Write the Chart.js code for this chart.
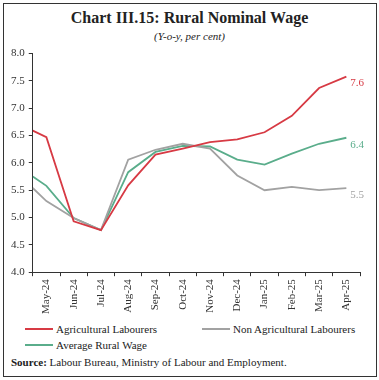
<!DOCTYPE html>
<html>
<head>
<meta charset="utf-8">
<title>Rural Nominal Wage</title>
<script src="https://cdn.jsdelivr.net/npm/chart.js@4.4.1/dist/chart.umd.min.js"></script>
<style>
    body { margin: 0; background: #fff; }
    #frame { position: relative; width: 379px; height: 380px; font-family: 'Liberation Serif', serif; color: #222; }
    #box { position: absolute; left: 3px; top: 3px; width: 374px; height: 374px; border: 1px solid #333; box-sizing: border-box; }
    #title { position: absolute; top: 9px; left: 0; width: 379px; text-align: center; font-weight: bold; font-size: 16px; }
    #subtitle { position: absolute; top: 30px; left: 0; width: 379px; text-align: center; font-style: italic; font-size: 11px; }
    #chartWrap { position: absolute; left: 0; top: 43px; width: 379px; height: 278px; }
    .legendItem { position: absolute; font-size: 11px; line-height: 12px; white-space: nowrap; }
    .legendItem span.swatch { display: inline-block; width: 28px; height: 2px; vertical-align: middle; margin-right: 3px; position: relative; top: -1px; }
    #source { position: absolute; left: 11px; top: 356px; font-size: 11px; }
</style>
</head>
<body>
<div id="frame">
    <div id="box"></div>
    <div id="title">Chart III.15: Rural Nominal Wage</div>
    <div id="subtitle">(Y-o-y, per cent)</div>
    <div id="chartWrap"><canvas id="wageChart" width="379" height="278"></canvas></div>
    <div id="legend"></div>
    <div id="source"><b>Source:</b> Labour Bureau, Ministry of Labour and Employment.</div>
</div>
<script>
// Meses del eje X
const months = ['May-24', 'Jun-24', 'Jul-24', 'Aug-24', 'Sep-24', 'Oct-24',
    'Nov-24', 'Dec-24', 'Jan-25', 'Feb-25', 'Mar-25', 'Apr-25'];

// Valor con el que cada línea entra por el borde izquierdo del gráfico
const agriStart = 6.59;
const nonAgriStart = 5.54;
const avgStart = 5.75;

// Series mensuales (y-o-y, %)
const agri = [6.47, 4.93, 4.77, 5.59, 6.15, 6.26, 6.38, 6.43, 6.56, 6.86, 7.37, 7.58];
const nonAgri = [5.30, 4.99, 4.77, 6.06, 6.24, 6.35, 6.26, 5.77, 5.50, 5.56, 5.50, 5.54];
const avgWage = [5.58, 4.99, 4.77, 5.83, 6.20, 6.31, 6.30, 6.06, 5.97, 6.17, 6.35, 6.46];

// Etiquetas al final de cada línea
const endLabels = ['7.6', '5.5', '6.4'];

const yTicks = { min: 4.0, max: 8.0, step: 0.5 };

(function () {
    const xMin = -0.5;
    const xMax = months.length - 0.5;

    function toPoints(start, values) {
        const pts = [{ x: xMin, y: start }];
        values.forEach((v, i) => pts.push({ x: i, y: v }));
        return pts;
    }

    const series = [
        { label: 'Agricultural Labourers', color: '#d73a44', start: agriStart, values: agri },
        { label: 'Non Agricultural Labourers', color: '#a2a2a2', start: nonAgriStart, values: nonAgri },
        { label: 'Average Rural Wage', color: '#5aad8b', start: avgStart, values: avgWage }
    ];

    // Etiqueta del último valor a la derecha de cada línea
    const endLabelPlugin = {
        id: 'endLabels',
        afterDatasetsDraw(chart) {
            const ctx = chart.ctx;
            ctx.save();
            ctx.font = '11px "Liberation Serif", serif';
            ctx.textBaseline = 'middle';
            ctx.textAlign = 'left';
            chart.data.datasets.forEach((ds, i) => {
                const meta = chart.getDatasetMeta(i);
                const last = meta.data[meta.data.length - 1];
                ctx.fillStyle = ds.borderColor;
                ctx.fillText(endLabels[i], last.x + 4, last.y + 7);
            });
            ctx.restore();
        }
    };

    const axisColor = '#333';
    const tickFont = { family: 'Liberation Serif', size: 11 };

    const chart = new Chart(document.getElementById('wageChart'), {
        type: 'line',
        data: {
            datasets: series.map(s => ({
                label: s.label,
                data: toPoints(s.start, s.values),
                borderColor: s.color,
                backgroundColor: s.color,
                borderWidth: 1.8,
                pointRadius: 0,
                tension: 0
            }))
        },
        options: {
            responsive: false,
            animation: false,
            layout: { padding: { left: 7, right: 19, top: 7, bottom: 4 } },
            plugins: {
                legend: { display: false },
                tooltip: { enabled: false }
            },
            scales: {
                x: {
                    type: 'linear',
                    min: xMin,
                    max: xMax,
                    afterBuildTicks: axis => {
                        axis.ticks = months.map((m, i) => ({ value: i }));
                    },
                    ticks: {
                        callback: v => months[v],
                        minRotation: 90,
                        maxRotation: 90,
                        autoSkip: false,
                        padding: 3,
                        color: '#333',
                        font: tickFont
                    },
                    grid: {
                        offset: true,
                        drawOnChartArea: false,
                        tickLength: 4,
                        color: axisColor
                    },
                    border: { color: axisColor, width: 1 }
                },
                y: {
                    min: yTicks.min,
                    max: yTicks.max,
                    ticks: {
                        stepSize: yTicks.step,
                        callback: v => Number(v).toFixed(1),
                        padding: 4,
                        color: '#333',
                        font: tickFont
                    },
                    grid: {
                        drawOnChartArea: false,
                        tickLength: 4,
                        color: axisColor
                    },
                    border: { color: axisColor, width: 1 }
                }
            }
        },
        plugins: [endLabelPlugin]
    });

    // Leyenda en HTML con dos columnas
    const legendPos = [
        { left: 25, top: 323 },
        { left: 202, top: 323 },
        { left: 25, top: 339 }
    ];
    const legend = document.getElementById('legend');
    chart.data.datasets.forEach((ds, i) => {
        const item = document.createElement('div');
        item.className = 'legendItem';
        item.style.left = legendPos[i].left + 'px';
        item.style.top = legendPos[i].top + 'px';
        item.innerHTML = '<span class="swatch" style="background:' + ds.borderColor + '"></span>' + ds.label;
        legend.appendChild(item);
    });

    console.log('chart area', JSON.stringify(chart.chartArea));
})();
</script>
</body>
</html>
